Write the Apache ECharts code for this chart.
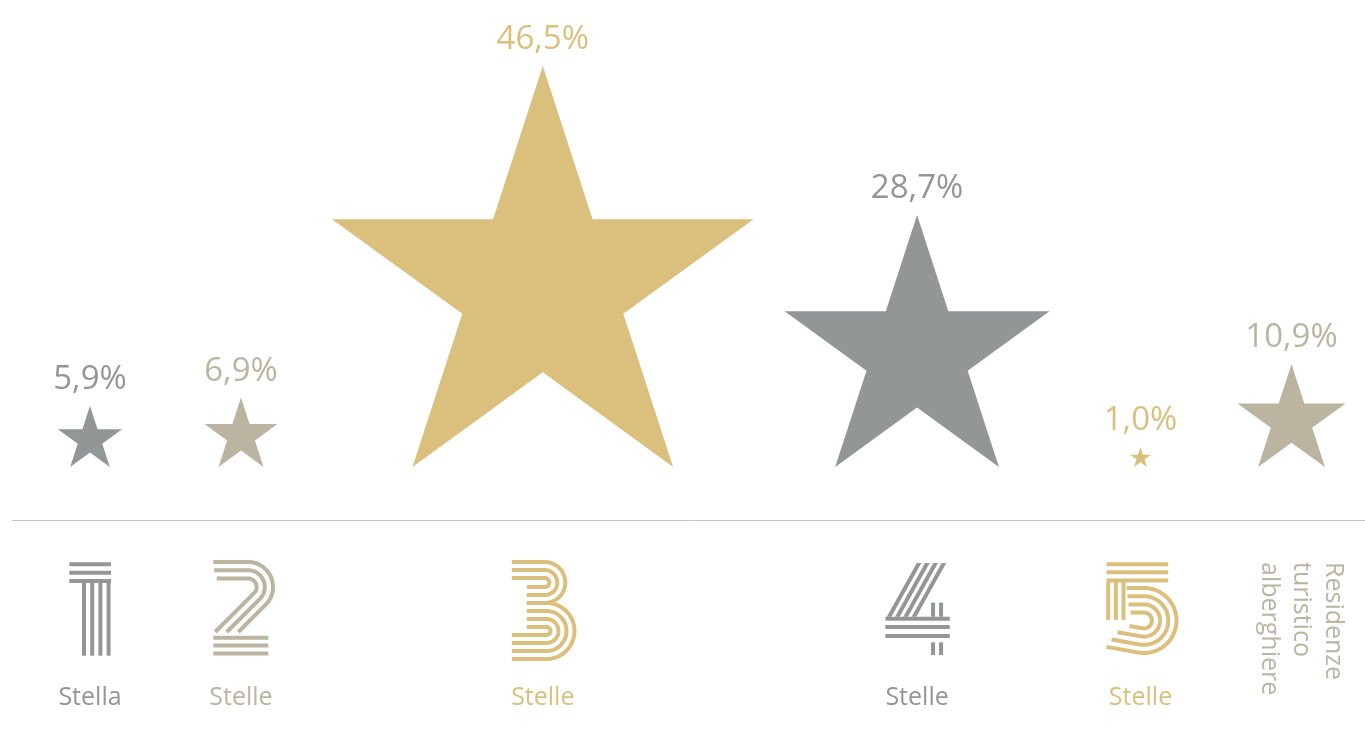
<!DOCTYPE html>
<html>
<head>
<meta charset="utf-8">
<script src="https://cdn.jsdelivr.net/npm/echarts@6/dist/echarts.min.js"></script>
<style>
  html, body { margin: 0; padding: 0; background: #ffffff; }
  #chart { width: 1365px; height: 735px; }
</style>
</head>
<body>
<div id="chart"></div>
<script>
// ---- data ----
const categories = ['1 Stella', '2 Stelle', '3 Stelle', '4 Stelle', '5 Stelle', 'Residenze turistico alberghiere'];
const shares = [5.9, 6.9, 46.5, 28.7, 1.0, 10.9];
const numerals = ['1', '2', '3', '4', '5', null];
const captions = ['Stella', 'Stelle', 'Stelle', 'Stelle', 'Stelle', 'Residenze\nturistico\nalberghiere'];

// ---- styles ----
const GREY = '#939697', SAND = '#bab4a0', GOLD = '#dbc07d';
const palette = [GREY, SAND, GOLD, GREY, GOLD, SAND];
const FONT = '"Open Sans", "Noto Sans", sans-serif';

// regular five-pointed star, bounding box 95.1 x 90.45
const STAR = 'path://M50,0L61.23,34.55L97.55,34.55L68.16,55.9L79.39,90.45L50,69.1L20.61,90.45L31.84,55.9L2.45,34.55L38.77,34.55Z';
const STAR_RATIO = 95.1 / 90.45;

// star height grows linearly with the share
const H_MIN = 20, H_MAX = 401;
const vMin = Math.min(...shares), vMax = Math.max(...shares);
const starH = v => H_MIN + (v - vMin) / (vMax - vMin) * (H_MAX - H_MIN);

// columns: as wide as their star (at least MIN_COL), separated by GAP
const MIN_COL = 120, GAP = 31, PAD_L = 18, AXIS_W = 1353;
const colW = shares.map(v => Math.max(starH(v) * STAR_RATIO, MIN_COL));
const centers = [];
colW.forEach((w, i) => {
  centers.push(i === 0 ? PAD_L + w / 2 : centers[i - 1] + (colW[i - 1] + w) / 2 + GAP);
});

const fmtShare = v => v.toFixed(1).replace('.', ',') + '%';

// ---- striped numerals ----
const SW = 4; // stripe width
function hbar(x0, x1, yc, c) {
  return { type: 'rect', shape: { x: x0, y: yc - SW / 2, width: x1 - x0, height: SW }, style: { fill: c } };
}
function vbar(xc, y0, y1, c) {
  return { type: 'rect', shape: { x: xc - SW / 2, y: y0, width: SW, height: y1 - y0 }, style: { fill: c } };
}
function stroke(pts, c) {
  return { type: 'polyline', shape: { points: pts },
    style: { stroke: c, lineWidth: SW, fill: null, lineCap: 'butt', lineJoin: 'round' } };
}
function arcPts(cx, cy, r, a0, a1) {
  const pts = [];
  const n = Math.max(8, Math.ceil(Math.abs(a1 - a0) / 4));
  for (let k = 0; k <= n; k++) {
    const a = (a0 + (a1 - a0) * k / n) * Math.PI / 180;
    pts.push([cx + r * Math.cos(a), cy + r * Math.sin(a)]);
  }
  return pts;
}

function glyph(d, c) {
  const out = [];
  if (d === '1') {
    for (let i = 0; i < 3; i++) out.push(hbar(-20.7, 21, 2.3 + 8.35 * i, c));
    for (let i = 0; i < 4; i++) out.push(vbar(-6 + 8.2 * i, 18.9, 93.7, c));
  } else if (d === '2') {
    const starts = [-27.7, -26.7, -24.3];
    for (let i = 0; i < 3; i++) {
      const r = 25 - 8.2 * i;
      const a = arcPts(7, 25, r, -90, 45);
      const last = a[a.length - 1];
      out.push(stroke([[starts[i], 25 - r]].concat(a, [[last[0] - (70 - last[1]), 70]]), c));
    }
    for (let i = 0; i < 3; i++) out.push(hbar(-27.7, 27.3, 75.7 + 7.9 * i, c));
  } else if (d === '3') {
    for (let i = 0; i < 3; i++) {
      const r = 20.5 - 8 * i;
      out.push(stroke([[-31, 20.5 - r]].concat(arcPts(2, 20.5, r, -90, 90), [[-16, 20.5 + r]]), c));
    }
    for (let i = 0; i < 4; i++) {
      const r = 28 - 8 * i;
      out.push(stroke([[-16, 69 - r]].concat(arcPts(3.7, 69, r, -90, 90), [[-31, 69 + r]]), c));
    }
  } else if (d === '4') {
    const hw = 2.3;
    for (let i = 0; i < 4; i++) {
      const xt = 2 + 8.3 * i, xb = -28 + 8.3 * i;
      out.push({ type: 'polygon', shape: { points: [[xt - hw, 1], [xt + hw, 1], [xb + hw, 54.7], [xb - hw, 54.7]] }, style: { fill: c } });
    }
    [56.7, 65, 74].forEach(y => out.push(hbar(-31.7, 32.7, y, c)));
    [16, 24].forEach(x => { out.push(vbar(x, 40.7, 54.7, c)); out.push(vbar(x, 80.3, 93, c)); });
  } else if (d === '5') {
    for (let i = 0; i < 3; i++) out.push(hbar(-34, 27.7, 2.2 + 8.1 * i, c));
    for (let i = 0; i < 3; i++) out.push(vbar(-32.3 + 7.65 * i, 20, 58, c));
    const starts = [-14, -13, -12, -10], ends = [-34, -29, -23, -11];
    for (let i = 0; i < 4; i++) {
      const r = 32.5 - 8.2 * i;
      const a = arcPts(3.5, 58.5, r, -90, 100);
      const last = a[a.length - 1];
      const t = (last[0] - ends[i]) / Math.sin(100 * Math.PI / 180);
      const endPt = [ends[i], last[1] + t * Math.cos(100 * Math.PI / 180)];
      out.push(stroke([[starts[i], 58.5 - r]].concat(a, [endPt]), c));
    }
  }
  return out;
}

const chart = echarts.init(document.getElementById('chart'), null, { renderer: 'canvas' });

chart.setOption({
  backgroundColor: '#ffffff',
  animation: false,
  grid: { left: 12, right: 0, top: 0, bottom: 268, containLabel: false, outerBoundsMode: 'none' },
  xAxis: {
    type: 'value', min: 0, max: AXIS_W, offset: 53,
    axisLine: { show: true, onZero: false, lineStyle: { color: '#c6c6c6', width: 1 } },
    axisTick: { show: false }, axisLabel: { show: false }, splitLine: { show: false }
  },
  yAxis: { type: 'value', min: 0, max: 1, show: false },
  series: [
    {
      type: 'scatter',
      symbol: STAR,
      symbolOffset: [0, '-50%'],
      emphasis: { disabled: true },
      label: {
        show: true, position: 'top', distance: 10,
        fontFamily: FONT, fontSize: 33,
        formatter: p => fmtShare(p.value[2])
      },
      data: shares.map((v, i) => ({
        name: categories[i],
        value: [centers[i], 0, v],
        symbolSize: [starH(v) * STAR_RATIO, starH(v)],
        itemStyle: { color: palette[i], opacity: 1 },
        label: { color: palette[i] }
      }))
    },
    {
      type: 'custom',
      clip: false,
      silent: true,
      encode: { x: 0, y: 1 },
      data: categories.map((c, i) => [centers[i], 0, i]),
      renderItem: (params, api) => {
        const i = api.value(2);
        const p = api.coord([api.value(0), 0]);
        const c = palette[i];
        const children = glyph(numerals[i], c);
        if (numerals[i]) {
          children.push({ type: 'text', style: {
            text: captions[i], x: 0, y: 136, align: 'center', verticalAlign: 'middle',
            fontFamily: FONT, fontSize: 25, fill: c } });
        } else {
          children.push({ type: 'text', x: 10, y: 0, rotation: -Math.PI / 2, style: {
            text: captions[i], x: 0, y: 0, align: 'left', verticalAlign: 'middle',
            fontFamily: FONT, fontSize: 25, lineHeight: 32, fill: c } });
        }
        return { type: 'group', x: p[0], y: p[1] + 95, children };
      }
    }
  ]
});
</script>
</body>
</html>
